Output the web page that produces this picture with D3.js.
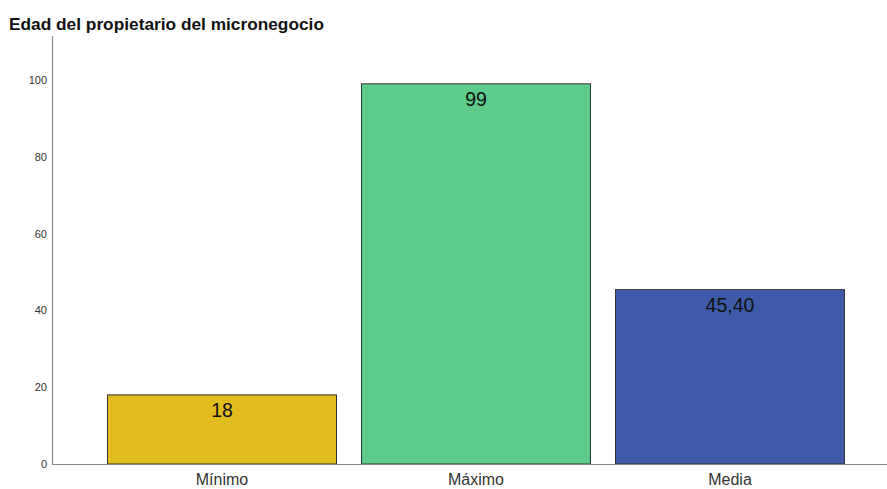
<!DOCTYPE html>
<html><head><meta charset="utf-8">
<script src="https://cdn.jsdelivr.net/npm/d3@7"></script>
<style>body{margin:0;background:#fff}svg{display:block}</style>
</head><body>
<script>
const categories = ["Mínimo", "Máximo", "Media"];
const values = [18, 99, 45.40];
const valueLabels = ["18", "99", "45,40"];
const colors = ["#E0BC1F", "#5DCB8B", "#3E5AA8"];
const yTicks = [0, 20, 40, 60, 80, 100];
const title = "Edad del propietario del micronegocio";

const W = 887, H = 489;
const svg = d3.select("body").append("svg").attr("width", W).attr("height", H);

const y = d3.scaleLinear().domain([0, 100]).range([464, 80]);
const x = d3.scaleBand().domain(categories).range([94.5, 856.5]).paddingInner(25/254).paddingOuter(12.5/254);

svg.append("text").attr("x", 9).attr("y", 30).text(title)
  .attr("font-family", "Liberation Sans, Arial, sans-serif").attr("font-weight", "bold").attr("font-size", 17.3).attr("fill", "#111");

// y axis
const yAxis = d3.axisLeft(y).tickValues(yTicks).tickSize(0).tickPadding(5);
const gy = svg.append("g").attr("transform", "translate(52,0)").call(yAxis);
gy.select(".domain").remove();
gy.selectAll("text").attr("font-family", "Liberation Sans, Arial, sans-serif").attr("font-size", 11).attr("fill", "#333");
svg.append("line").attr("x1", 52.5).attr("x2", 52.5).attr("y1", 36).attr("y2", y(0)).attr("stroke", "#888").attr("stroke-width", 1.2);

// bars
svg.selectAll("rect.bar").data(values).enter().append("rect").attr("class", "bar")
  .attr("x", (d, i) => x(categories[i]) + 0.5)
  .attr("width", x.bandwidth())
  .attr("y", d => y(d))
  .attr("height", d => y(0) - y(d))
  .attr("fill", (d, i) => colors[i])
  .attr("stroke", "#333").attr("stroke-width", 1);

svg.selectAll("text.val").data(values).enter().append("text").attr("class", "val")
  .attr("x", (d, i) => x(categories[i]) + x.bandwidth() / 2 + 0.5)
  .attr("y", d => y(d) + 22)
  .attr("text-anchor", "middle")
  .attr("font-family", "Liberation Sans, Arial, sans-serif").attr("font-size", 19.5).attr("fill", "#111")
  .text((d, i) => valueLabels[i]);

// x axis
const xAxis = d3.axisBottom(x).tickSize(0).tickPadding(10);
const gx = svg.append("g").attr("transform", `translate(0.5,${y(0)})`).call(xAxis);
gx.select(".domain").remove();
gx.selectAll("text").attr("font-family", "Liberation Sans, Arial, sans-serif").attr("font-size", 16).attr("fill", "#333");
svg.append("line").attr("x1", 52).attr("x2", 887).attr("y1", y(0) + 0.5).attr("y2", y(0) + 0.5).attr("stroke", "#888").attr("stroke-width", 1.2);
</script>
</body></html>
